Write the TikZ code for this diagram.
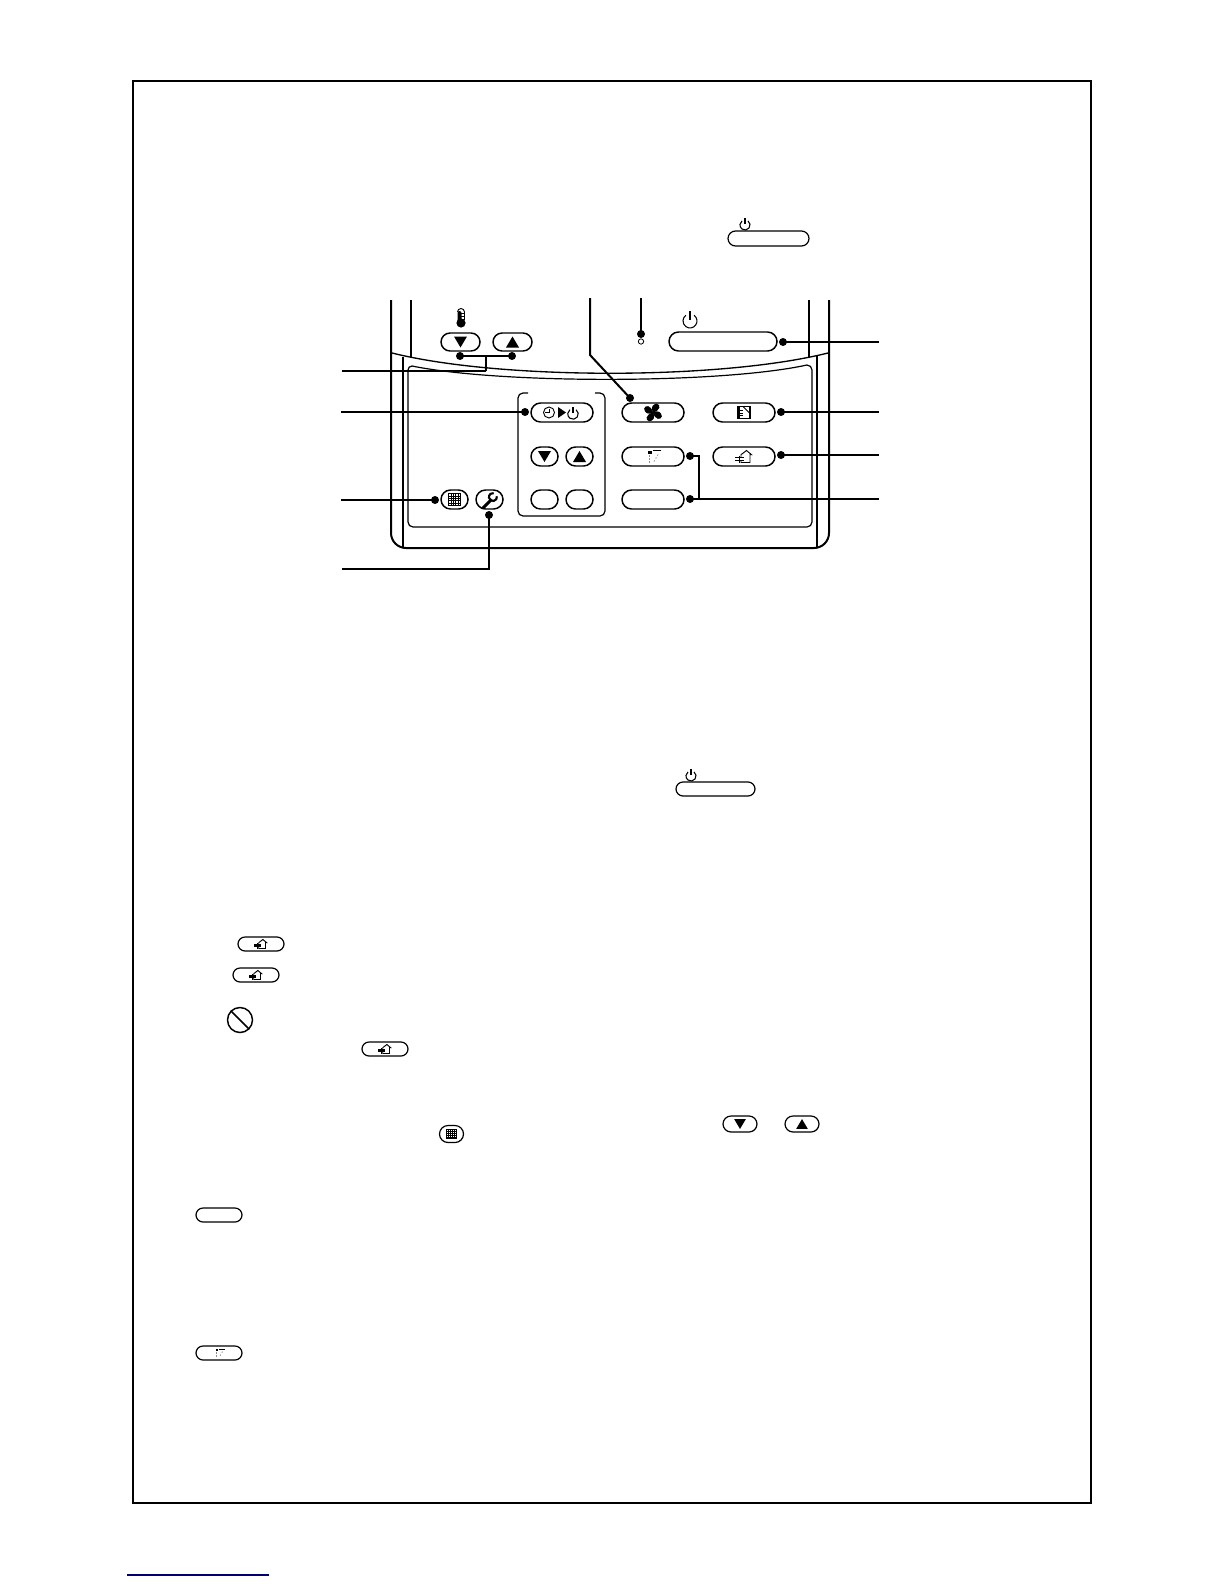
\documentclass[tikz,border=0pt]{standalone}
\usetikzlibrary{shapes.misc}
\tikzset{
  btn/.style n args={2}{draw, rounded rectangle, minimum width=#1*0.75pt, minimum height=#2*0.75pt, inner sep=0pt, line width=1.1pt, fill=white},
  sbtn/.style n args={2}{draw, rounded rectangle, minimum width=#1*0.75pt, minimum height=#2*0.75pt, inner sep=0pt, line width=0.9pt, fill=white},
  dotn/.style={circle, fill=black, inner sep=0pt, minimum size=6pt},
  thickline/.style={line width=1.5pt},
  thinline/.style={line width=0.9pt},
  body/.style={line width=1.5pt},
  pw/.pic={
    \draw[line width=0.8pt] (4.1,-5.7) arc[start angle=-54, delta angle=288, radius=7];
    \draw[line width=0.8pt] (0,-10) -- (0,-1);
  },
  triu/.pic={\fill (-6.5,5.5) -- (6.5,5.5) -- (0,-5.5) -- cycle;},
  trid/.pic={\fill (-6.5,-5.5) -- (6.5,-5.5) -- (0,5.5) -- cycle;},
  vent/.pic={
    \draw[line width=0.7pt, line join=miter] (-3,1) -- (-3,-1.8) -- (2.5,-6) -- (7.5,-1.8) -- (6,-1.8) -- (6,6) -- (-3,6) -- (-3,4);
    \draw[line width=0.9pt] (-9,1.2) -- (-0.5,1.2) (-9,3.8) -- (-0.5,3.8) (-4.5,-1) -- (-4.5,6);
  },
  gridicon/.pic={
    \draw[line width=0.7pt] (-6,-6) rectangle (6,6);
    \foreach \k in {-3.6,-1.2,1.2,3.6} {
      \draw[line width=0.45pt] (\k,-6) -- (\k,6) (-6,\k) -- (6,\k);
    }
  },
  louver/.pic={
    \fill (-5,-6) rectangle (-1.5,-3);
    \draw[line width=0.6pt] (0,-5.8) -- (8,-5.8);
    \draw[line width=0.6pt,black!45,dash pattern=on 1.5pt off 1pt] (-4,-2) -- (-4,6);
    \draw[line width=0.6pt,black!45,dash pattern=on 1pt off 1.5pt] (5,-2) -- (1,5);
  },
  fanicon/.pic={
    \foreach \a in {45,135,225,315} {
      \fill[rotate=\a] (0,0) .. controls (1,-5) and (6,-6.5) .. (9,-3.5) .. controls (11,0) and (7,4) .. (0,0) -- cycle;
    }
    \fill (0,0) circle[radius=1.5];
  },
  noteicon/.pic={
    \draw[line width=0.9pt] (-6,-6) rectangle (6,6);
    \draw[line width=1.2pt] (-4.8,-6) -- (-4.8,6);
    \draw[line width=0.7pt] (-1,-6) -- (6,1);
    \draw[line width=0.6pt] (-4.5,-2.5) -- (-1,-2.5) (-4.5,0.5) -- (-1,0.5) (-4.5,3.2) -- (-1,3.2);
  },
  wrench/.pic={
    \draw[line width=2.2pt, line cap=round] (-7,8) -- (1,0);
    \draw[line width=1.6pt] (6.9,-3.7) arc[start angle=-10, delta angle=290, radius=4];
  },
  clockicon/.pic={
    \draw[line width=0.7pt] (0,0) circle[radius=5.5];
    \draw[line width=0.7pt] (0,-4) -- (0,0) -- (-4,0);
  },
}
\begin{document}
\begin{tikzpicture}[x=0.75pt,y=-0.75pt]
\useasboundingbox (0,0) rectangle (1224,1584);
\draw[line width=1.9pt] (133,81) rectangle (1091,1503);
\draw[line width=1pt,color=blue!45!black] (127,1575) -- (269,1575);

% controller body
\draw[body] (391,300) -- (391,533) arc[start angle=180, delta angle=-90, radius=15] -- (814,548) arc[start angle=90, delta angle=-90, radius=15] -- (829,300);
\draw[line width=1pt] (411,300) -- (411,357);
\draw[line width=1pt] (809,300) -- (809,357);
\draw[line width=1pt] (392,353) .. controls (500,380) and (720,380) .. (828,353);
\draw[line width=1pt] (403,357) -- (403,547);
\draw[line width=1pt] (817,356) -- (817,547);
\draw[line width=0.9pt] (408,370) arc[start angle=180, delta angle=90, radius=4] .. controls (500,384) and (720,384) .. (807,365) arc[start angle=-90, delta angle=90, radius=5] -- (812,522) arc[start angle=0, delta angle=90, radius=5] -- (413,527) arc[start angle=90, delta angle=90, radius=5] -- (408,370);
\draw[line width=0.9pt] (528,393) -- (523,393) arc[start angle=-90, delta angle=-90, radius=5] -- (518,511) arc[start angle=180, delta angle=-90, radius=5] -- (600,516) arc[start angle=90, delta angle=-90, radius=5] -- (605,398) arc[start angle=0, delta angle=-90, radius=5] -- (595,393);

% thermometer
\fill (461,323) circle[radius=4.6];
\fill (457.5,313) arc[start angle=180, delta angle=180, radius=2] -- (461.5,323) -- (457.5,323) -- cycle;
\draw[line width=0.7pt] (457.5,312) arc[start angle=180, delta angle=180, radius=3.5] -- (464.5,320);
\draw[line width=0.6pt] (461,313) -- (464.5,313) (461,316) -- (464.5,316) (461,319) -- (464.5,319);

% buttons
\node[btn={39}{18}] (tdown) at (460.5,342) {};
\node[btn={39}{18}] (tup) at (512.5,342) {};
\node[btn={108}{19}] (onoff) at (723,341.5) {};
\node[btn={62}{19}] (timer) at (562,412.5) {};
\node[btn={27}{19}] (tmdown) at (544.5,456.5) {};
\node[btn={27}{19}] (tmup) at (579.5,456.5) {};
\node[btn={27}{19}] (blankA) at (544.5,499.5) {};
\node[btn={27}{19}] (blankB) at (579.5,499.5) {};
\node[btn={62}{19}] (fan) at (653,412.5) {};
\node[btn={62}{19}] (louverb) at (653,456.5) {};
\node[btn={62}{19}] (blankC) at (653,499.5) {};
\node[btn={62}{19}] (note) at (744,412.5) {};
\node[btn={62}{19}] (save) at (744,456.5) {};
\node[btn={27}{19}] (filter) at (454.5,499.5) {};
\node[btn={27}{19}] (service) at (489.5,499.5) {};

% button icons
\pic at (460.5,342) {trid};
\pic at (512.5,342) {triu};
\pic at (690,321) {pw};
\pic at (549,412.5) {clockicon};
\fill (558,407) -- (566,412.5) -- (558,418) -- cycle;
\pic[scale=0.75] at (573,414) {pw};
\pic at (544.5,456.5) {trid};
\pic at (579.5,456.5) {triu};
\pic at (653,412.5) {fanicon};
\pic at (653,456.5) {louver};
\pic at (744,412.5) {noteicon};
\pic at (744,456.5) {vent};
\pic at (454.5,499.5) {gridicon};
\pic at (490,500) {wrench};

% dots and indicator
\node[dotn] (dTd) at (460,356) {};
\node[dotn] (dTu) at (512,356) {};
\node[dotn] (dTimer) at (525,412) {};
\node[dotn] (dFilter) at (435,500) {};
\node[dotn] (dService) at (489,515) {};
\node[dotn] (dFan) at (630,398) {};
\node[dotn] (dLed) at (641,334) {};
\node[circle,draw,line width=0.6pt,inner sep=0pt,minimum size=4pt] (led) at (641,341.5) {};
\node[dotn] (dOn) at (783,342) {};
\node[dotn] (dNote) at (781,412) {};
\node[dotn] (dSave) at (781,455) {};
\node[dotn] (dLou) at (690,456) {};
\node[dotn] (dBlank) at (690,499) {};

% free ends
\coordinate (eTemp) at (342,371);
\coordinate (eTimer) at (341,412);
\coordinate (eFilter) at (341,500);
\coordinate (eService) at (342,569);
\coordinate (eFan) at (590,298);
\coordinate (eLed) at (641,298);
\coordinate (eOn) at (879,342);
\coordinate (eNote) at (879,412);
\coordinate (eSave) at (879,455);
\coordinate (eBlank) at (879,499);

% connectors
\draw[thickline] (dTd.center) -- (dTu.center);
\draw[thickline] (486,356) -- (486,371);
\draw[thinline] (486,371) -- (eTemp);
\draw[thinline] (dTimer.center) -- (eTimer);
\draw[thickline] (dFilter.center) -- (eFilter);
\draw[thickline] (dService.center) |- (eService);
\draw[thickline] (dFan.center) -- (590,355) -- (eFan);
\draw[thickline] (dLed.center) -- (eLed);
\draw[thickline] (dOn.center) -- (eOn);
\draw[thickline] (dNote.center) -- (eNote);
\draw[thinline] (dSave.center) -- (eSave);
\draw[thinline] (dBlank.center) -- (eBlank);
\draw[thickline] (dLou.center) -| (699,499);

% inline symbols
\node[sbtn={81}{15}] (oA) at (768.5,238.5) {};
\pic[scale=0.72] at (745,225) {pw};
\node[sbtn={79}{14}] (oB) at (715.5,789) {};
\pic[scale=0.72] at (691,776) {pw};
\node[sbtn={46}{14}] (vA) at (261,944) {};
\pic[scale=0.75] at (261,944) {vent};
\node[sbtn={46}{14}] (vB) at (256,975) {};
\pic[scale=0.75] at (256,975) {vent};
\node[sbtn={46}{14}] (vC) at (385,1049) {};
\pic[scale=0.75] at (385,1049) {vent};
\node[circle,draw,line width=1.1pt,inner sep=0pt,minimum size=18.75pt] (no) at (240,1020) {};
\draw[line width=1.1pt] (no.135) -- (no.-45);
\node[sbtn={24}{17}] (gA) at (451.5,1134) {};
\pic[scale=0.8] at (451.5,1134) {gridicon};
\node[sbtn={34}{16}] (sD) at (740,1124) {};
\pic[scale=0.9] at (740,1124) {trid};
\node[sbtn={34}{16}] (sU) at (802,1124) {};
\pic[scale=0.9] at (802,1124) {triu};
\node[sbtn={46}{14}] (bS) at (219,1215) {};
\node[sbtn={46}{14}] (lS) at (219,1353) {};
\pic[scale=0.7] at (219,1353) {louver};
\end{tikzpicture}
\end{document}
